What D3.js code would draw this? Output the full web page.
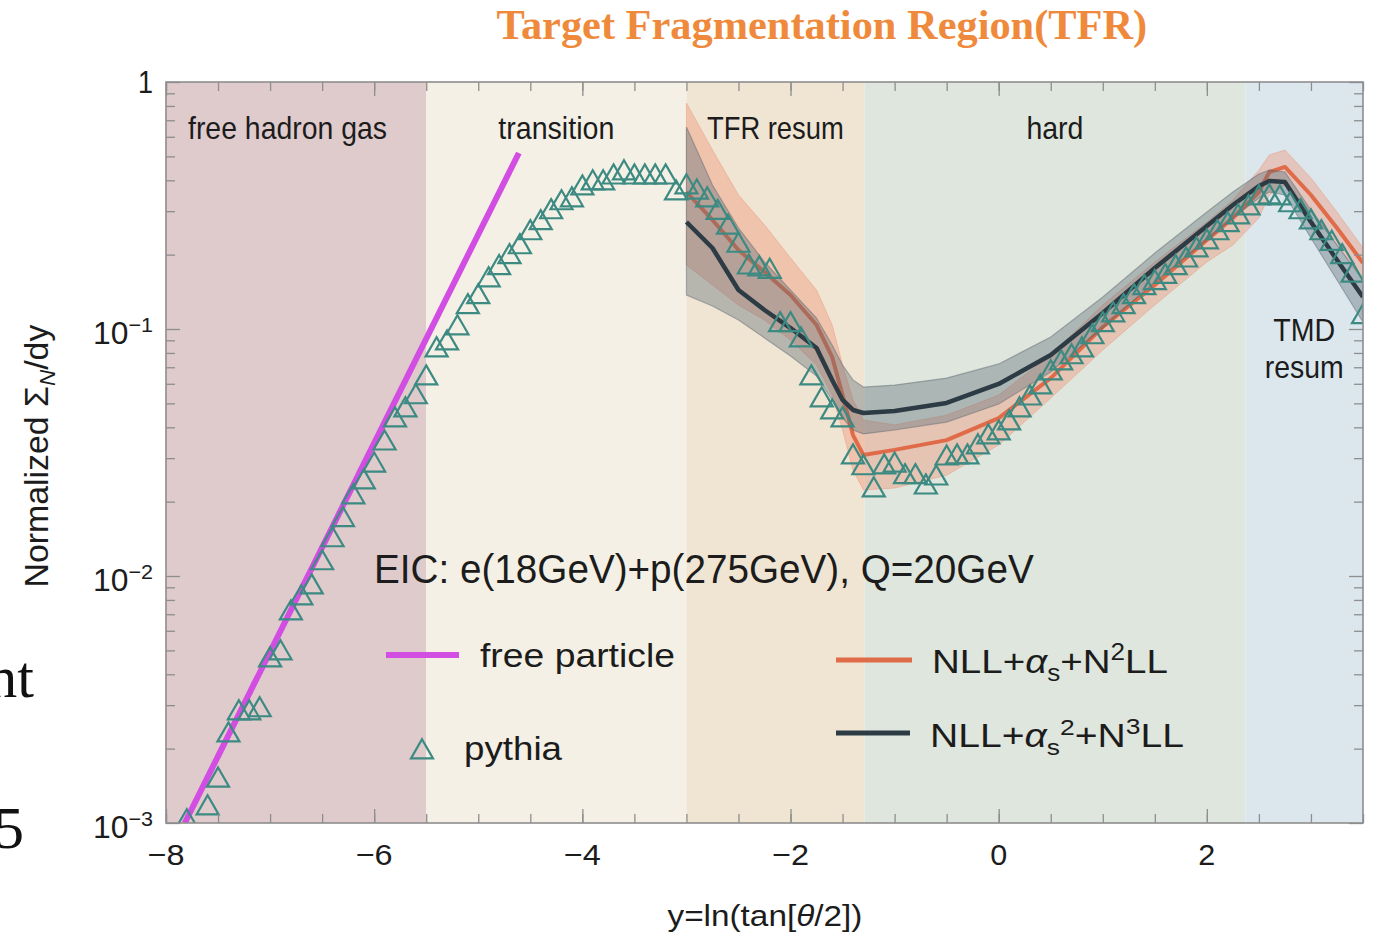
<!DOCTYPE html>
<html>
<head>
<meta charset="utf-8">
<script src="https://cdn.jsdelivr.net/npm/d3@7"></script>
<style>
  html, body { margin: 0; padding: 0; background: #ffffff; }
  svg { display: block; }
</style>
</head>
<body>
<svg id="chart" width="1375" height="936"></svg>
<script>
// ---------- data ----------
const xDomain = [-8, 3.5];
const yDomain = [1e-3, 1];

const regionNames = ["free hadron gas", "transition", "TFR resum", "hard", "TMD resum"];
const regionEdges = [-8, -5.5, -3, -1.29, 2.37, 3.5];

const xTickMajor = [-8, -6, -4, -2, 0, 2];
const xTickLabels = ["\u22128", "\u22126", "\u22124", "\u22122", "0", "2"];
const yTickMajor = [1e-3, 1e-2, 1e-1, 1];
const yTickExponents = ["\u22123", "\u22122", "\u22121", ""];

// free-particle estimate (straight on the log axis)
const freeY = [-7.82, -4.61];
const freeVal = [0.001, 0.516];

// pythia simulation
const pythiaY = [-7.8, -7.6, -7.5, -7.4, -7.3, -7.2, -7.1, -7.0, -6.9, -6.8, -6.7, -6.6, -6.5, -6.4, -6.3, -6.2, -6.1, -6.0,
  -5.9, -5.8, -5.7, -5.6, -5.5, -5.4, -5.3, -5.2, -5.1, -5.0, -4.9, -4.8, -4.7, -4.6, -4.5, -4.4, -4.3, -4.2, -4.1, -4.0,
  -3.9, -3.8, -3.7, -3.6, -3.5, -3.4, -3.3, -3.2, -3.1, -3.0, -2.9, -2.8, -2.7, -2.6, -2.5, -2.4, -2.3, -2.2, -2.1, -2.0,
  -1.9, -1.8, -1.7, -1.6, -1.5, -1.4, -1.3, -1.2, -1.1, -1.0, -0.9, -0.8, -0.7, -0.6, -0.5, -0.4, -0.3, -0.2, -0.1, 0.0,
  0.1, 0.2, 0.3, 0.4, 0.5, 0.6, 0.7, 0.8, 0.9, 1.0, 1.1, 1.2, 1.3, 1.4, 1.5, 1.6, 1.7, 1.8, 1.9, 2.0,
  2.1, 2.2, 2.3, 2.4, 2.5, 2.6, 2.7, 2.8, 2.9, 3.0, 3.1, 3.2, 3.3, 3.4, 3.5];
const pythiaVal = [0.00101, 0.00115, 0.00149, 0.00227, 0.00279, 0.00279, 0.00287, 0.00457, 0.00488, 0.00708, 0.00815, 0.00902, 0.0113, 0.0140, 0.0169, 0.0209, 0.0240, 0.0281,
  0.0345, 0.0428, 0.0470, 0.0531, 0.0633, 0.0822, 0.0877, 0.101, 0.123, 0.135, 0.158, 0.177, 0.196, 0.215, 0.245, 0.269, 0.298, 0.324, 0.333, 0.372,
  0.390, 0.390, 0.412, 0.428, 0.412, 0.412, 0.412, 0.412, 0.355, 0.376, 0.358, 0.333, 0.296, 0.258, 0.218, 0.178, 0.175, 0.171, 0.104, 0.104,
  0.0902, 0.0633, 0.0516, 0.0461, 0.0428, 0.0303, 0.0274, 0.0223, 0.0276, 0.0281, 0.0252, 0.0252, 0.0229, 0.0249, 0.0300, 0.0303, 0.0303, 0.0333, 0.0365, 0.0379,
  0.0416, 0.0470, 0.0525, 0.0582, 0.0664, 0.0728, 0.0771, 0.0822, 0.0929, 0.104, 0.114, 0.123, 0.135, 0.147, 0.154, 0.163, 0.177, 0.190, 0.209, 0.225,
  0.245, 0.264, 0.284, 0.309, 0.339, 0.342, 0.339, 0.318, 0.298, 0.271, 0.245, 0.222, 0.196, 0.165, 0.112];

// resummed predictions with scale-variation bands
const theoryY = [-3, -2.75, -2.5, -2.25, -2, -1.75, -1.6, -1.5, -1.4, -1.3, -1.0, -0.5, 0, 0.5, 1.0, 1.5, 2.0, 2.25, 2.5, 2.6, 2.75, 3.0, 3.25, 3.5];
const n2ll   = [0.3586, 0.2763, 0.2089, 0.1701, 0.1373, 0.1038, 0.0770, 0.0540, 0.0372, 0.0309, 0.0324, 0.0355, 0.0436, 0.0633, 0.1019, 0.1507, 0.2292, 0.2814, 0.3586, 0.4321, 0.4529, 0.3487, 0.2564, 0.1850];
const n2llHi = [0.8222, 0.5305, 0.3487, 0.2637, 0.1939, 0.1438, 0.1038, 0.0715, 0.0516, 0.0428, 0.0409, 0.0448, 0.0540, 0.0785, 0.1251, 0.1867, 0.2711, 0.3329, 0.4402, 0.5064, 0.5305, 0.4087, 0.2977, 0.2128];
const n2llLo = [0.1816, 0.1507, 0.1251, 0.1087, 0.0902, 0.0715, 0.0540, 0.0390, 0.0269, 0.0223, 0.0227, 0.0256, 0.0339, 0.0525, 0.0822, 0.1251, 0.1867, 0.2188, 0.2814, 0.3487, 0.3828, 0.2977, 0.2188, 0.1579];
const n3ll   = [0.2711, 0.2128, 0.1438, 0.1194, 0.1009, 0.0838, 0.0622, 0.0516, 0.0470, 0.0457, 0.0466, 0.0502, 0.0599, 0.0785, 0.1161, 0.1766, 0.2612, 0.3177, 0.3793, 0.3973, 0.3936, 0.2711, 0.1903, 0.1347];
const n3llHi = [0.657, 0.3828, 0.2564, 0.1867, 0.1438, 0.1108, 0.0861, 0.0715, 0.0622, 0.0582, 0.0593, 0.0633, 0.0722, 0.0928, 0.1347, 0.2030, 0.2977, 0.3586, 0.4241, 0.4402, 0.4321, 0.3033, 0.2188, 0.1579];
const n3llLo = [0.1373, 0.1239, 0.1087, 0.0920, 0.0777, 0.0645, 0.0516, 0.0436, 0.0390, 0.0376, 0.0390, 0.0420, 0.0497, 0.0670, 0.1009, 0.1550, 0.2292, 0.2814, 0.3391, 0.3586, 0.3487, 0.2335, 0.1579, 0.1067];

// ---------- styles ----------
const SANS = "'Liberation Sans', Arial, Helvetica, sans-serif";
const SERIF = "'Liberation Serif', 'Times New Roman', serif";
const regionFills = ["#dfcbcc", "#f5f0e5", "#f0e4d3", "#dfe6dd", "#dce7ed"];
const TEXT = "#1c1c1c";
const FRAME = "#8e8e8e";
const ORANGE = "#e06b49";
const DARK = "#2d3b45";
const TEAL = "#3c8a82";
const MAGENTA = "#d24ee3";

// ---------- scales ----------
const PL = 166, PR = 1363, PT = 82, PB = 823;
const x = d3.scaleLinear().domain(xDomain).range([PL, PR]);
const y = d3.scaleLog().domain(yDomain).range([PB, PT]);

const svg = d3.select("#chart");

// text fitted to a given advance width (the plot's lettering is slightly condensed)
function fitText(parent, o, build) {
  const g = parent.append("g").attr("transform", `translate(${o.x},${o.y}) rotate(${o.rotate || 0})`);
  const t = g.append("text")
    .attr("font-family", o.family || SANS)
    .attr("font-size", o.size)
    .attr("font-weight", o.weight || "normal")
    .attr("fill", o.fill || TEXT);
  if (typeof build === "string") t.text(build); else build(t);
  const w = t.node().getComputedTextLength();
  const sx = o.width / w;
  const off = o.anchor === "middle" ? -o.width / 2 : o.anchor === "end" ? -o.width : 0;
  t.attr("transform", `translate(${off},0) scale(${sx},1)`);
  return t;
}

// ---------- stray slide text at the left margin ----------
svg.append("text").attr("x", 34).attr("y", 697).attr("text-anchor", "end")
  .attr("font-family", SERIF).attr("font-size", 60).attr("fill", "#111").text("nt");
svg.append("text").attr("x", 24).attr("y", 848).attr("text-anchor", "end")
  .attr("font-family", SERIF).attr("font-size", 60).attr("fill", "#111").text("5");

// ---------- title ----------
fitText(svg, { x: 822, y: 39, size: 42, width: 651, anchor: "middle", family: SERIF, weight: "bold", fill: "#ef8a3c" },
  "Target Fragmentation Region(TFR)");

// ---------- plot body ----------
svg.append("defs").append("clipPath").attr("id", "plotClip")
  .append("rect").attr("x", PL).attr("y", PT).attr("width", PR - PL).attr("height", PB - PT);

const body = svg.append("g").attr("clip-path", "url(#plotClip)");

// regime backgrounds
body.selectAll("rect.region")
  .data(regionNames)
  .join("rect")
  .attr("class", "region")
  .attr("x", (d, i) => x(regionEdges[i]))
  .attr("y", PT)
  .attr("width", (d, i) => x(regionEdges[i + 1]) - x(regionEdges[i]))
  .attr("height", PB - PT)
  .attr("fill", (d, i) => regionFills[i]);

const theory = theoryY.map((t, i) => ({
  t, a: n2ll[i], aLo: n2llLo[i], aHi: n2llHi[i], b: n3ll[i], bLo: n3llLo[i], bHi: n3llHi[i]
}));

// NLL+as+N2LL band and line
body.append("path").datum(theory)
  .attr("d", d3.area().x(d => x(d.t)).y0(d => y(d.aLo)).y1(d => y(d.aHi)))
  .attr("fill", "#f08f6e").attr("fill-opacity", 0.38)
  .attr("stroke", "#eb9a80").attr("stroke-opacity", 0.5).attr("stroke-width", 1);
body.append("path").datum(theory)
  .attr("d", d3.line().x(d => x(d.t)).y(d => y(d.a)))
  .attr("fill", "none").attr("stroke", ORANGE).attr("stroke-width", 4).attr("stroke-linejoin", "round");

// NLL+as^2+N3LL band and line
body.append("path").datum(theory)
  .attr("d", d3.area().x(d => x(d.t)).y0(d => y(d.bLo)).y1(d => y(d.bHi)))
  .attr("fill", "#5f6f78").attr("fill-opacity", 0.4)
  .attr("stroke", "#59666d").attr("stroke-opacity", 0.45).attr("stroke-width", 1.2);
body.append("path").datum(theory)
  .attr("d", d3.line().x(d => x(d.t)).y(d => y(d.b)))
  .attr("fill", "none").attr("stroke", DARK).attr("stroke-width", 4.5).attr("stroke-linejoin", "round");

// free particle
body.append("path").datum(freeY.map((t, i) => [t, freeVal[i]]))
  .attr("d", d3.line().x(d => x(d[0])).y(d => y(d[1])))
  .attr("fill", "none").attr("stroke", MAGENTA).attr("stroke-width", 6);

// pythia markers
const tri = d3.symbol().type(d3.symbolTriangle).size(210);
body.selectAll("path.pythia")
  .data(pythiaY.map((t, i) => [t, pythiaVal[i]]))
  .join("path")
  .attr("class", "pythia")
  .attr("transform", d => `translate(${x(d[0])},${y(d[1])})`)
  .attr("d", tri)
  .attr("fill", "none").attr("stroke", TEAL).attr("stroke-width", 2.2).attr("stroke-linejoin", "miter");

// regime labels
regionNames.forEach((name, i) => {
  const cx = (x(regionEdges[i]) + x(regionEdges[i + 1])) / 2;
  if (name === "TMD resum") {
    fitText(svg, { x: cx, y: 341, size: 32, width: 62, anchor: "middle" }, "TMD");
    fitText(svg, { x: cx, y: 378, size: 32, width: 79, anchor: "middle" }, "resum");
  } else {
    const widths = { "free hadron gas": 199, "transition": 116, "TFR resum": 137, "hard": 57 };
    const cxs = { "free hadron gas": 287.5 };
    fitText(svg, { x: cxs[name] || cx, y: 139, size: 32, width: widths[name], anchor: "middle" }, name);
  }
});

// ---------- axes ----------
function styleAxis(g) {
  g.select(".domain").remove();
  g.selectAll(".tick line").attr("stroke", FRAME).attr("stroke-width", 1.3);
  g.selectAll(".tick text").remove();
}
const xMinor = d3.range(-8, 3.501, 0.5);
const yMinor = [];
[1e-3, 1e-2, 1e-1].forEach(dec => { for (let k = 2; k <= 9; k++) yMinor.push(dec * k); });

svg.append("g").attr("transform", `translate(0,${PB})`)
  .call(d3.axisBottom(x).tickValues(xMinor).tickSize(-9)).call(styleAxis);
svg.append("g").attr("transform", `translate(0,${PB})`)
  .call(d3.axisBottom(x).tickValues(xTickMajor).tickSize(-14)).call(styleAxis);
svg.append("g").attr("transform", `translate(0,${PT})`)
  .call(d3.axisTop(x).tickValues(xMinor).tickSize(-9)).call(styleAxis);
svg.append("g").attr("transform", `translate(0,${PT})`)
  .call(d3.axisTop(x).tickValues(xTickMajor).tickSize(-14)).call(styleAxis);

svg.append("g").attr("transform", `translate(${PL},0)`)
  .call(d3.axisLeft(y).tickValues(yMinor).tickSize(-9)).call(styleAxis);
svg.append("g").attr("transform", `translate(${PL},0)`)
  .call(d3.axisLeft(y).tickValues(yTickMajor).tickSize(-14)).call(styleAxis);
svg.append("g").attr("transform", `translate(${PR},0)`)
  .call(d3.axisRight(y).tickValues(yMinor).tickSize(-9)).call(styleAxis);
svg.append("g").attr("transform", `translate(${PR},0)`)
  .call(d3.axisRight(y).tickValues(yTickMajor).tickSize(-14)).call(styleAxis);

// frame
svg.append("rect").attr("x", PL).attr("y", PT).attr("width", PR - PL).attr("height", PB - PT)
  .attr("fill", "none").attr("stroke", FRAME).attr("stroke-width", 1.6);

// x tick labels
xTickMajor.forEach((v, i) => {
  const lab = xTickLabels[i];
  fitText(svg, { x: x(v), y: 865, size: 30, width: lab.length > 1 ? 37 : 17, anchor: "middle" }, lab);
});

// y tick labels
yTickMajor.forEach((v, i) => {
  const e = yTickExponents[i];
  if (e === "") {
    fitText(svg, { x: 153, y: y(v) + 11, size: 31, width: 15, anchor: "end" }, "1");
  } else {
    fitText(svg, { x: 153, y: y(v) + 15, size: 31, width: 60, anchor: "end" }, t => {
      t.append("tspan").text("10");
      t.append("tspan").attr("font-size", 21).attr("dy", -12).text(e);
    });
  }
});

// axis titles
fitText(svg, { x: 765, y: 926, size: 30, width: 195, anchor: "middle" }, t => {
  t.append("tspan").text("y=ln(tan[");
  t.append("tspan").attr("font-style", "italic").text("\u03b8");
  t.append("tspan").text("/2])");
});
fitText(svg, { x: 48, y: 456, size: 33, width: 263, anchor: "middle", rotate: -90 }, t => {
  t.append("tspan").text("Normalized \u03a3");
  t.append("tspan").attr("font-size", 22).attr("font-style", "italic").attr("dy", 7).text("N");
  t.append("tspan").attr("dy", -7).text("/dy");
});

// ---------- annotation and legend ----------
fitText(svg, { x: 374, y: 583, size: 40, width: 660 }, "EIC: e(18GeV)+p(275GeV), Q=20GeV");

svg.append("line").attr("x1", 386).attr("x2", 459).attr("y1", 655).attr("y2", 655)
  .attr("stroke", MAGENTA).attr("stroke-width", 6);
fitText(svg, { x: 480, y: 667, size: 34, width: 195 }, "free particle");

svg.append("path").attr("transform", "translate(422,752)").attr("d", tri)
  .attr("fill", "none").attr("stroke", TEAL).attr("stroke-width", 2.2);
fitText(svg, { x: 464, y: 760, size: 34, width: 98 }, "pythia");

svg.append("line").attr("x1", 836).attr("x2", 912).attr("y1", 660).attr("y2", 660)
  .attr("stroke", ORANGE).attr("stroke-width", 5);
fitText(svg, { x: 932, y: 673, size: 34, width: 236 }, t => {
  t.append("tspan").text("NLL+");
  t.append("tspan").attr("font-style", "italic").text("\u03b1");
  t.append("tspan").attr("font-size", 23).attr("dy", 8).text("s");
  t.append("tspan").attr("dy", -8).text("+N");
  t.append("tspan").attr("font-size", 23).attr("dy", -13).text("2");
  t.append("tspan").attr("dy", 13).text("LL");
});

svg.append("line").attr("x1", 836).attr("x2", 910).attr("y1", 733).attr("y2", 733)
  .attr("stroke", DARK).attr("stroke-width", 5);
fitText(svg, { x: 930, y: 747, size: 34, width: 254 }, t => {
  t.append("tspan").text("NLL+");
  t.append("tspan").attr("font-style", "italic").text("\u03b1");
  t.append("tspan").attr("font-size", 23).attr("dy", 8).text("s");
  t.append("tspan").attr("font-size", 23).attr("dy", -20).text("2");
  t.append("tspan").attr("dy", 12).text("+N");
  t.append("tspan").attr("font-size", 23).attr("dy", -13).text("3");
  t.append("tspan").attr("dy", 13).text("LL");
});
</script>
</body>
</html>
